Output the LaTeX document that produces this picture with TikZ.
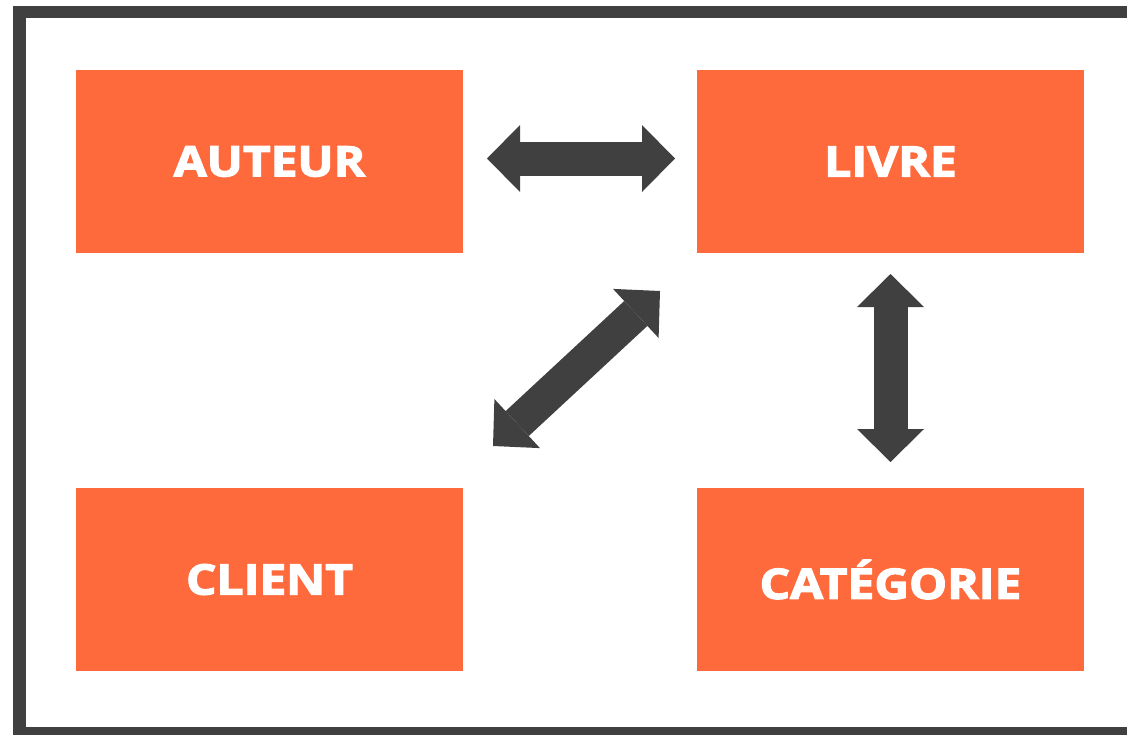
\documentclass[tikz,border=0pt]{standalone}
\usepackage{fontspec}
\setsansfont{Open Sans}[BoldFeatures={FakeBold=3, FakeStretch=1.14}]
\usetikzlibrary{arrows.meta,positioning}
\definecolor{corange}{HTML}{FF6A3C}
\definecolor{cgris}{HTML}{404040}

\begin{document}
\begin{tikzpicture}[x=1pt, y=-1pt, node distance=234pt and 234pt,
    boite/.style={fill=corange, text=white, inner sep=0pt, outer sep=0pt,
      minimum width=387pt, minimum height=183pt,
      font=\sffamily\bfseries\fontsize{42}{48}\selectfont},
    fleche/.style={draw=cgris, line width=34pt,
      {Triangle[length=33pt,width=67pt,line width=0pt]}-{Triangle[length=33pt,width=67pt,line width=0pt]}}]
    \clip (0,0) rectangle (1127,734);
    % cadre
    \draw[cgris, line width=12.5pt] (19.5,12) rectangle (1145,733);
    \node[boite] (auteur) at (269.5,161.5) {AUTEUR};
    \node[boite, right=of auteur] (livre) {LIVRE};
    \node[boite, below=235pt of auteur] (client) {CLIENT};
    \node[boite, below=235pt of livre] (cat) {CATÉGORIE};
    \draw[fleche, shorten <=24pt, shorten >=22pt] ([yshift=3pt]auteur.east) -- ([yshift=3pt]livre.west);
    \draw[fleche, shorten <=21pt, shorten >=26pt] (livre.south) -- (cat.north);
    \draw[fleche] ([xshift=30pt,yshift=42pt]client.north east) -- ([xshift=-37pt,yshift=-38pt]livre.south west);
\end{tikzpicture}
\end{document}
